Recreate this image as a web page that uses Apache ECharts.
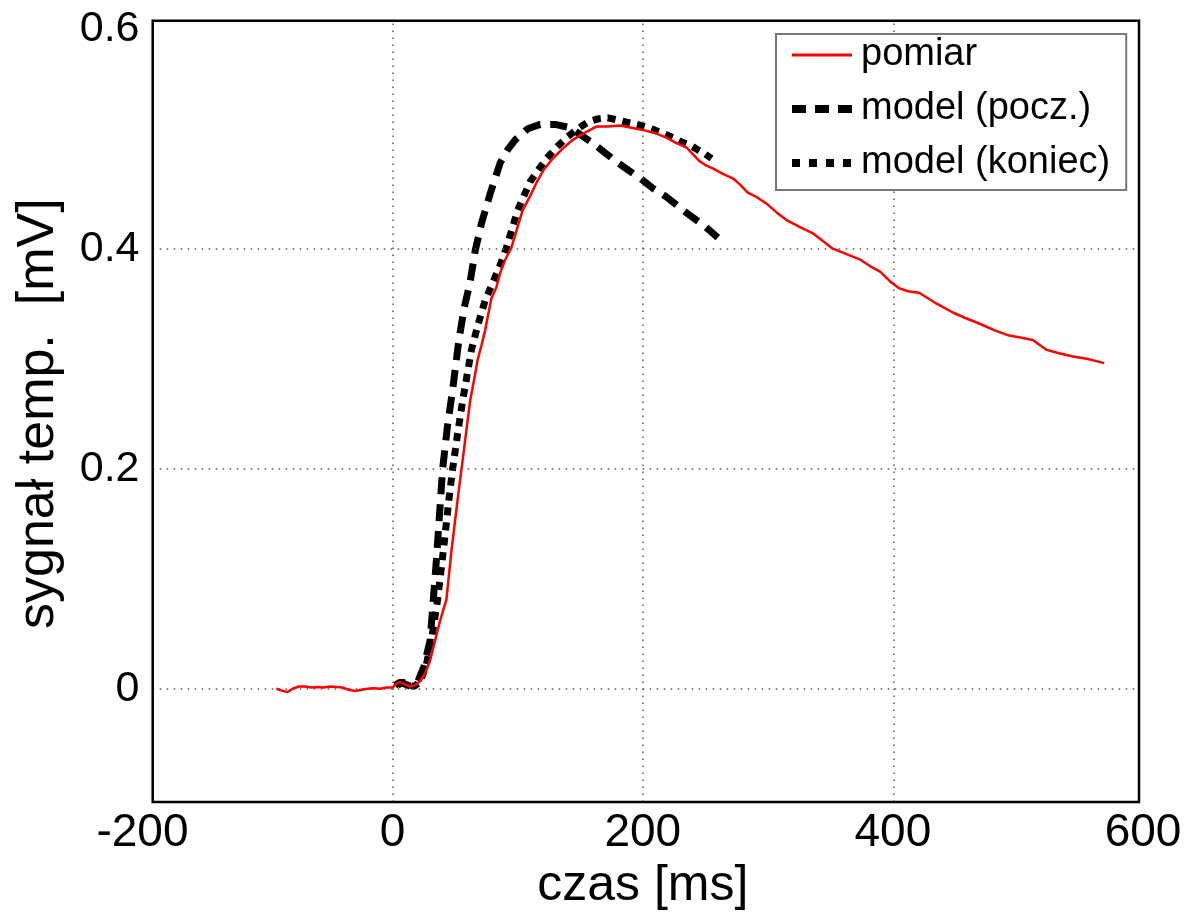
<!DOCTYPE html>
<html>
<head>
<meta charset="utf-8">
<script src="https://cdn.jsdelivr.net/npm/echarts@6/dist/echarts.min.js"></script>
<style>
html,body{margin:0;padding:0;background:#fff;}
#chart{width:1192px;height:923px;}
</style>
</head>
<body>
<div id="chart"></div>
<script>
// ---- data ----
const xTickLabels = [-200, 0, 200, 400, 600];
const yTickLabels = [0, 0.2, 0.4, 0.6];
const gridX = [0, 200, 400];
const gridY = [0, 0.2, 0.4];
const frameX = [-191.9, 596.3];
const frameY = [-0.103, 0.607];

const seriesNames = ['pomiar', 'model (pocz.)', 'model (koniec)'];

const pomiarT = [-93,-88,-84,-80,-75,-70,-65,-60,-55,-50,-45,-40,-35,-30,-25,-20,-15,-10,-5,0,3,6,10,14,18,22,26,30,34,38,43,47,52,56,59,62,65,68,71,74,79,83,86,90,95,100,104,110,115,121,128,136,144,153,163,172,182,191,200,210,219,227,235,240,245,250,256,264,272,278,284,291,299,307,315,325,336,344,352,363,374,382,390,398,405,413,421,435,448,458,469,481,493,503,512,518,523,533,544,555,562,569];
const pomiarV = [0.000,-0.002,-0.003,0.000,0.002,0.002,0.001,0.0015,0.001,0.002,0.0015,0.001,-0.001,-0.002,-0.001,0.000,0.0005,0.000,0.001,0.001,0.005,0.006,0.004,0.002,0.003,0.007,0.014,0.026,0.044,0.062,0.081,0.125,0.172,0.208,0.235,0.262,0.280,0.299,0.312,0.326,0.355,0.365,0.378,0.390,0.401,0.420,0.435,0.448,0.460,0.472,0.482,0.491,0.499,0.505,0.511,0.511,0.512,0.510,0.508,0.505,0.501,0.496,0.492,0.486,0.480,0.476,0.473,0.468,0.464,0.458,0.451,0.447,0.441,0.433,0.426,0.420,0.414,0.407,0.400,0.395,0.390,0.384,0.379,0.370,0.364,0.361,0.360,0.350,0.342,0.337,0.332,0.326,0.321,0.319,0.317,0.312,0.308,0.305,0.302,0.300,0.298,0.296];

const poczT = [2,6,10,15,20,25,30,35,40,44,48,53,57,62,66,71,78,86,92,98,108,118,130,142,151,160,170,179,189,198,208,219,229,238,248,260];
const poczV = [0.003,0.006,0.004,0.002,0.006,0.020,0.044,0.117,0.200,0.240,0.272,0.317,0.345,0.370,0.398,0.423,0.450,0.478,0.490,0.499,0.509,0.513,0.513,0.510,0.503,0.496,0.487,0.479,0.471,0.464,0.455,0.447,0.438,0.430,0.422,0.410];

const koniecT = [4,8,12,17,22,27,31,36,41,45,48,52,56,60,63,68,74,80,86,91,100,110,123,131,139,148,156,164,172,180,187,195,202,209,216,224,231,238,244,250,255];
const koniecV = [0.003,0.006,0.004,0.002,0.006,0.022,0.044,0.081,0.130,0.172,0.200,0.232,0.262,0.288,0.308,0.330,0.353,0.369,0.385,0.401,0.435,0.461,0.482,0.492,0.501,0.509,0.515,0.518,0.519,0.517,0.515,0.513,0.511,0.508,0.505,0.501,0.497,0.494,0.490,0.486,0.482];

const zip = (a, b) => a.map((v, i) => [v, b[i]]);

const FONT = "'Liberation Sans', Arial, sans-serif";
const chart = echarts.init(document.getElementById('chart'), null, {renderer: 'canvas'});

const gridLines = [];
gridX.forEach(v => gridLines.push([{coord: [v, frameY[0]]}, {coord: [v, frameY[1]]}]));
gridY.forEach(v => gridLines.push([{coord: [frameX[0], v]}, {coord: [frameX[1], v]}]));

chart.setOption({
  animation: false,
  backgroundColor: '#fff',
  grid: [
    {left: 142.5, top: 28.7, width: 1000.5, height: 770, show: false},
    {left: 152.7, top: 20.7, width: 986.3, height: 781.3, show: true, borderColor: '#000', borderWidth: 2.5, backgroundColor: 'transparent', z: 10}
  ],
  xAxis: [
    {type: 'value', gridIndex: 0, min: -200, max: 600, interval: 200,
     axisLine: {show: false}, axisTick: {show: false}, splitLine: {show: false},
     axisLabel: {fontSize: 46, fontFamily: FONT, color: '#000', margin: 12,
       formatter: v => xTickLabels.includes(v) ? String(v) : ''},
     name: 'czas [ms]', nameLocation: 'middle', nameGap: 54,
     nameTextStyle: {fontSize: 50, fontFamily: FONT, color: '#000'}},
    {type: 'value', gridIndex: 1, show: false, min: frameX[0], max: frameX[1]}
  ],
  yAxis: [
    {type: 'value', gridIndex: 0, min: -0.1, max: 0.6, interval: 0.1,
     axisLine: {show: false}, axisTick: {show: false}, splitLine: {show: false},
     axisLabel: {fontSize: 43, fontFamily: FONT, color: '#000', margin: 3,
       formatter: v => {
         const r = Math.round(v * 10) / 10;
         const hit = yTickLabels.find(t => Math.abs(t - r) < 1e-9);
         return hit === undefined ? '' : String(hit);
       }},
     name: 'sygnał temp.  [mV]', nameLocation: 'middle', nameGap: 78,
     nameTextStyle: {fontSize: 52, fontFamily: FONT, color: '#000'}},
    {type: 'value', gridIndex: 1, show: false, min: frameY[0], max: frameY[1]}
  ],
  legend: {
    orient: 'vertical', left: 776, top: 34,
    data: [
      {name: seriesNames[0], lineStyle: {width: 3}},
      {name: seriesNames[1], lineStyle: {width: 8, type: [14, 9]}},
      {name: seriesNames[2], lineStyle: {width: 8, type: [8, 9]}}
    ],
    itemWidth: 60, itemHeight: 20, itemGap: 16,
    padding: [2, 16, 8, 12],
    borderColor: '#777', borderWidth: 2, backgroundColor: '#fff',
    itemStyle: {opacity: 0},
    textStyle: {fontSize: 38, fontFamily: FONT, color: '#000', lineHeight: 38, padding: [0, 0, 0, 4]},
    z: 20
  },
  series: [
    {name: '_grid', type: 'line', xAxisIndex: 1, yAxisIndex: 1, data: [], silent: true, z: 1,
     markLine: {silent: true, symbol: 'none', animation: false, label: {show: false},
       lineStyle: {color: '#555', width: 1.5, type: [1.5, 5.5]}, data: gridLines}},
    {name: seriesNames[1], type: 'line', xAxisIndex: 0, yAxisIndex: 0, data: zip(poczT, poczV),
     showSymbol: false, symbol: 'none', smooth: false, z: 3,
     lineStyle: {color: '#000', width: 7, type: [17, 10], cap: 'butt'}, itemStyle: {color: '#000'}},
    {name: seriesNames[2], type: 'line', xAxisIndex: 0, yAxisIndex: 0, data: zip(koniecT, koniecV),
     showSymbol: false, symbol: 'none', smooth: false, z: 3,
     lineStyle: {color: '#000', width: 7, type: [8, 7], cap: 'butt'}, itemStyle: {color: '#000'}},
    {name: seriesNames[0], type: 'line', xAxisIndex: 0, yAxisIndex: 0, data: zip(pomiarT, pomiarV),
     showSymbol: false, symbol: 'none', smooth: false, z: 5,
     lineStyle: {color: '#ff0000', width: 2.5}, itemStyle: {color: '#ff0000'}}
  ]
});
</script>
</body>
</html>
